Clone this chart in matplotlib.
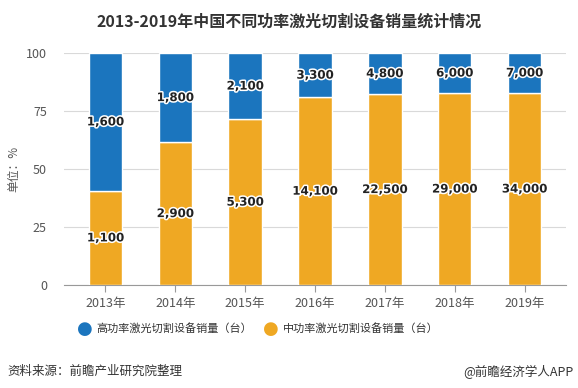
import matplotlib
matplotlib.use("Agg")
import matplotlib.pyplot as plt
import matplotlib.patheffects as pe
import numpy as np

plt.rcParams['font.family'] = ['Noto Sans CJK SC', 'DejaVu Sans']

years = ['2013年', '2014年', '2015年', '2016年', '2017年', '2018年', '2019年']
high_power = [1600, 1800, 2100, 3300, 4800, 6000, 7000]
mid_power = [1100, 2900, 5300, 14100, 22500, 29000, 34000]
high_name = '高功率激光切割设备销量（台）'
mid_name = '中功率激光切割设备销量（台）'

blue = '#1B75BE'
orange = '#EFA823'

x = np.arange(len(years))
total = np.array(high_power) + np.array(mid_power)
mid_pct = np.array(mid_power) / total * 100
high_pct = np.array(high_power) / total * 100

fig = plt.figure(figsize=(5.78, 3.88), dpi=100)
ax = fig.add_axes([0.11, 0.265, 0.87, 0.598])

ax.bar(x, mid_pct, width=0.48, color=orange, edgecolor='white', linewidth=1, zorder=3)
ax.bar(x, high_pct, width=0.48, bottom=mid_pct, color=blue, edgecolor='white', linewidth=1, zorder=3)

# data labels, dark bold text with a white outline
stroke = [pe.withStroke(linewidth=2.2, foreground='white')]
for i in range(len(years)):
    ax.text(x[i], mid_pct[i] / 2, f'{mid_power[i]:,}', ha='center', va='center',
            fontsize=8.5, fontweight='bold', color='#222222', path_effects=stroke, zorder=4,
            family=['DejaVu Sans'])
    ax.text(x[i], mid_pct[i] + high_pct[i] / 2, f'{high_power[i]:,}', ha='center', va='center',
            fontsize=8.5, fontweight='bold', color='#222222', path_effects=stroke, zorder=4,
            family=['DejaVu Sans'])

ax.set_xlim(-0.6, len(years) - 0.4)
ax.set_ylim(0, 100)
ax.set_yticks([0, 25, 50, 75, 100])
ax.set_xticks(x)
ax.set_xticklabels(years)
ax.tick_params(axis='y', length=0, labelsize=9, labelcolor='#555555', pad=12)
ax.tick_params(axis='x', length=5, color='#999999', labelsize=9, labelcolor='#555555')
ax.grid(axis='y', color='#d9d9d9', linewidth=0.8, zorder=0)
for s in ['top', 'right', 'left']:
    ax.spines[s].set_visible(False)
ax.spines['bottom'].set_color('#999999')
ax.set_ylabel('单位：%', fontsize=8.5, color='#555555', labelpad=4)

fig.text(0.5, 0.945, '2013-2019年中国不同功率激光切割设备销量统计情况', ha='center', va='center',
         fontsize=11.5, fontweight='bold', color='#333333')

# legend
fig.text(0.147, 0.153, '●', ha='center', va='center', fontsize=13, color=blue, family=['DejaVu Sans'])
fig.text(0.166, 0.153, high_name, ha='left', va='center', fontsize=8, color='#333333')
fig.text(0.468, 0.153, '●', ha='center', va='center', fontsize=13, color=orange, family=['DejaVu Sans'])
fig.text(0.490, 0.153, mid_name, ha='left', va='center', fontsize=8, color='#333333')

fig.text(0.012, 0.042, '资料来源：前瞻产业研究院整理', ha='left', va='center', fontsize=9, color='#333333')
fig.text(0.992, 0.042, '@前瞻经济学人APP', ha='right', va='center', fontsize=9, color='#333333')

fig.savefig('out.png', dpi=100)
